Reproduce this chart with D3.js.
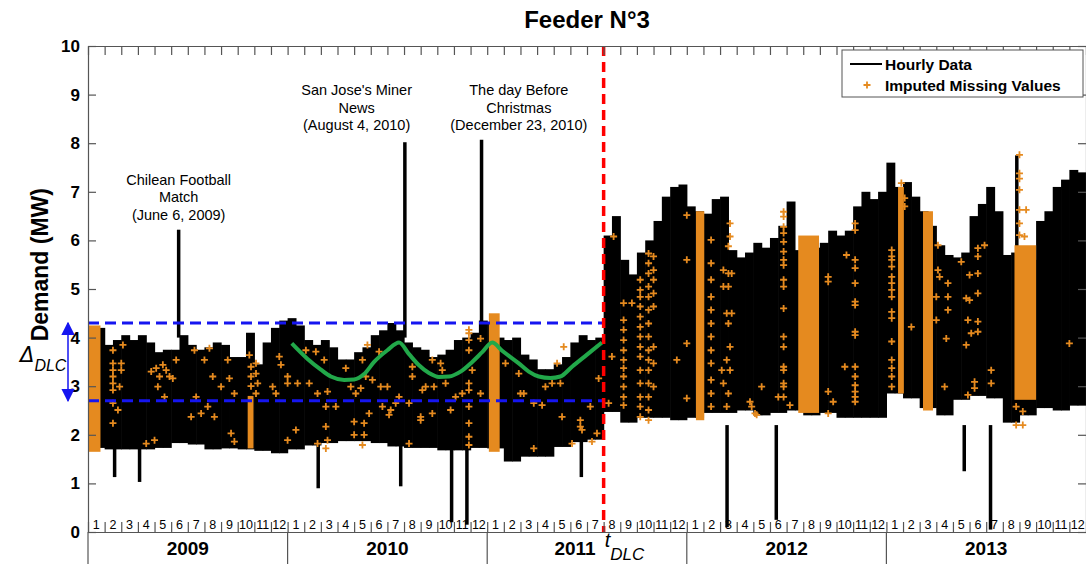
<!DOCTYPE html>
<html>
<head>
<meta charset="utf-8">
<script src="https://cdn.jsdelivr.net/npm/d3@7"></script>
<style>
  body { margin: 0; background: #fff; }
  svg { display: block; font-family: "Liberation Sans", Arial, sans-serif; }
</style>
</head>
<body>
<svg id="chart" width="1086" height="564"></svg>
<script>
// months are counted from Jan 2009 (0) to Dec 2013 (60)
const years = ["2009", "2010", "2011", "2012", "2013"];
const monthLabels = ["1", "2", "3", "4", "5", "6", "7", "8", "9", "10", "11", "12"];
const yTicks = [0, 1, 2, 3, 4, 5, 6, 7, 8, 9, 10];

// upper envelope of the hourly data, two values per month
const upperHalf = [
  4.15, 4.2, 3.85, 3.95, 4.05, 3.95, 4.05, 3.9, 3.7, 3.75, 3.75, 4.05,
  3.85, 3.75, 3.8, 3.9, 3.85, 3.6, 3.6, 4.1, 3.45, 3.9, 4.2, 4.35,
  4.4, 4.25, 3.95, 3.85, 3.95, 3.8, 3.55, 3.55, 3.7, 3.8, 4.05, 4.15,
  4.3, 4.15, 3.9, 3.8, 3.75, 3.6, 3.65, 3.75, 3.95, 4.0, 4.1, 4.35,
  4.3, 4.0, 3.95, 4.0, 3.65, 3.55, 3.35, 3.35, 3.45, 3.6, 3.9, 4.05,
  3.95, 4.0, 6.1, 6.5, 5.6, 5.3, 5.75, 6.0, 6.4, 6.9, 7.1, 7.15,
  6.7, 6.6, 6.55, 6.85, 6.9, 5.8, 5.65, 5.75, 5.95, 5.85, 6.05, 6.3,
  6.8, 5.8, 5.85, 5.85, 5.95, 6.2, 6.1, 6.2, 6.7, 7.0, 6.85, 7.0,
  7.6, 7.1, 7.2, 6.9, 6.6, 6.3, 5.9, 5.7, 5.65, 5.75, 6.5, 6.75,
  7.1, 6.6, 5.7, 5.75, 5.65, 5.6, 6.4, 6.6, 7.1, 7.25, 7.45, 7.4
];
// lower envelope, one value per month
const lowerMonthly = [
  1.73, 1.7, 1.7, 1.7, 1.73, 1.83, 1.8, 1.7, 1.72, 1.7, 1.67, 1.62,
  1.7, 1.78, 1.83, 1.87, 1.87, 1.83, 1.76, 1.73, 1.73, 1.68, 1.68, 1.73,
  1.72, 1.45, 1.55, 1.55, 1.75, 1.85, 1.9, 2.47, 2.25, 2.35, 2.35, 2.3,
  2.35, 2.45, 2.45, 2.5, 2.4, 2.45, 2.5, 2.4, 2.45, 2.35, 2.35, 2.35,
  2.85, 2.75, 2.55, 2.4, 2.72, 2.8, 2.75, 2.25, 2.4, 2.55, 2.5, 2.6
];
// single-hour spikes [month, value]
const spikes = [
  [5.45, 6.22], [19.05, 8.02], [23.66, 8.07], [55.84, 7.75],
  [1.6, 1.13], [3.1, 1.03], [13.84, 0.9], [18.8, 0.94], [21.86, 0.2], [22.78, 0.15],
  [29.66, 1.13], [38.42, 0.1], [41.38, 0.25], [52.68, 1.25], [54.26, 0.05]
];
// dense runs of imputed values [from, to, low, high]
const imputedBands = [
  [0.0, 0.75, 1.65, 4.25], [9.6, 9.95, 1.72, 2.8], [24.1, 24.75, 1.65, 4.5],
  [36.55, 37.05, 2.3, 6.6], [42.7, 43.95, 2.45, 6.1], [48.7, 49.05, 2.85, 7.1],
  [50.2, 50.8, 2.5, 6.6], [55.7, 57.0, 2.72, 5.9]
];
// scattered imputed values [month, value]
const imputed = [
  [1.5,3.74],[1.5,3.47],[1.5,3.33],[1.5,3.2],[1.5,3.06],[1.5,2.92],[1.5,2.65],[1.5,2.24],[2.0,3.47],[2.0,3.33],[1.9,2.99],[1.8,2.51],[2.1,3.85],
  [3.8,3.3],[4.1,3.37],[4.3,3.2],[4.5,3.44],[4.7,3.33],[4.9,3.2],[5.1,3.16],[4.2,2.99],[4.6,2.78],[5.3,3.54],
  [6.4,3.74],[7.0,3.54],[7.3,3.78],[7.5,3.2],[8.0,2.99],[8.5,3.16],[8.8,2.85],[8.4,3.54],[9.7,3.64],
  [6.2,2.37],[6.5,2.78],[6.8,2.44],[7.2,2.58],[7.6,2.37],[8.6,2.03],[8.8,1.86],[3.5,1.82],[4.0,1.89],
  [9.8,3.0],[9.8,3.2],[9.8,3.4],[10.1,3.47],[10.1,3.26],[10.2,3.06],[10.1,2.85],
  [11.5,3.61],[11.6,3.44],[12.0,3.2],[11.3,2.85],[11.1,2.99],[12.0,3.06],
  [12.6,3.06],[13.1,3.74],[13.7,3.71],[13.3,3.06],[13.8,2.85],[14.4,2.89],[14.3,2.58],[14.3,2.17],[14.4,1.89],[14.3,1.72],[13.8,1.82],[12.5,2.1],[12.0,1.89],
  [14.2,3.54],[14.9,2.58],[15.5,3.37],[15.8,2.99],[16.1,2.85],[16.4,2.96],[16.5,3.54],[16.7,3.2],[16.8,3.85],[17.1,3.13],[16.9,2.44],[16.6,2.24],[16.0,2.27],[16.0,2.0],[16.6,2.0],[16.5,1.79],
  [17.5,3.71],[17.6,2.99],[17.7,2.58],[18.0,2.99],[18.2,2.51],[18.1,2.41],[18.5,2.65],[18.7,2.78],[19.3,1.82],[19.5,3.4],[19.5,3.2],[19.3,2.65],[20.0,2.37],[20.1,2.92],
  [20.7,3.54],[21.3,3.33],[20.7,2.44],[20.3,2.99],[20.8,2.99],[21.5,3.06],[22.1,2.78],[22.5,2.85],[21.2,3.47],[21.8,2.51],[20.0,2.3],
  [22.9,4.16],[22.9,4.09],[22.9,3.95],[22.9,3.74],[22.9,3.06],[22.9,2.92],[22.9,2.58],[22.9,2.24],[22.9,1.96],[22.9,1.79],
  [23.6,3.98],[23.6,2.85],[23.1,3.33],
  [25.1,3.47],[25.9,3.26],[26.0,2.85],[26.2,2.85],[26.8,2.65],[27.3,2.61],[27.5,2.99],[27.9,3.06],[28.4,3.06],[28.2,3.47],[28.6,3.81],[28.5,2.37],[29.6,2.3],[29.7,2.1],[29.6,2.17],[29.1,1.82],[26.8,1.72],[30.3,1.86],[30.7,3.16],[30.2,2.58],[30.6,2.03],
  [31.5,3.61],[31.6,6.08],[31.3,2.65],[32.7,4.71],
  [32.2,4.71],[32.2,4.36],[32.2,4.16],[32.2,3.95],[32.2,3.74],[32.2,3.54],[32.2,3.37],[32.2,3.2],[32.2,2.99],[32.2,2.78],[32.2,2.61],
  [33.2,5.19],[33.2,4.98],[33.2,4.84],[33.2,4.64],[33.2,4.43],[33.2,4.22],[33.2,4.02],[33.2,3.81],[33.2,3.61],[33.2,3.33],[33.2,3.06],[33.2,2.78],[33.2,2.58],[33.2,2.37],
  [33.7,5.73],[33.7,5.53],[33.7,5.32],[33.7,5.05],[33.7,4.84],[33.7,4.57],[33.7,4.29],[33.7,4.02],[33.7,3.74],[33.7,3.54],[33.7,3.33],[33.7,3.06],[33.7,2.78],[33.7,2.51],[33.7,2.3],
  [34.0,5.67],[34.0,5.39],[34.0,5.19],[34.0,4.91],[34.0,4.64],[34.0,3.81],[34.0,3.47],[34.0,2.99],
  [35.4,3.54],[36.0,3.88],[36.0,2.75],[36.0,5.6],[36.0,6.52],
  [37.46,6.01],[37.46,5.53],[37.46,5.19],[37.46,4.84],[37.46,4.57],[37.46,4.29],[37.46,4.02],[37.46,3.74],[37.46,3.47],[37.46,3.13],[37.46,2.85],[37.46,2.58],
  [38.6,6.35],[38.6,6.08],[38.5,5.88],[38.2,5.39],[38.5,5.32],[38.7,5.32],[38.2,5.05],[38.5,5.05],[38.4,4.5],[38.7,4.5],[38.5,4.29],[38.6,3.81],[38.4,3.54],[38.6,3.33],[38.1,3.33],[38.2,3.06],[38.5,2.85],[38.4,2.58],[39.9,2.58],[40.1,2.44],
  [39.8,2.68],[40.5,2.99],[40.2,2.41],
  [41.82,6.59],[41.82,6.49],[41.82,6.28],[41.82,6.15],[41.82,5.97],[41.82,5.77],[41.82,5.6],[41.82,5.49],[41.82,5.19],[41.82,5.05],[41.82,4.6],[41.82,4.02],[41.82,3.81],[41.82,3.4],[41.82,3.33],[41.82,3.06],[41.82,2.99],[41.82,2.78],
  [41.5,2.78],[42.2,2.61],
  [44.5,5.25],[44.5,5.15],[44.5,2.89],[44.8,2.68],[44.5,2.44],[45.5,3.4],[45.6,5.7],
  [46.12,6.35],[46.12,6.21],[46.12,5.6],[46.12,5.43],[46.12,5.12],[46.12,4.74],[46.12,4.67],[46.12,4.12],[46.12,4.05],[46.12,3.4],[46.12,3.2],[46.12,3.02],[46.12,2.89],[46.12,2.78],[46.12,2.68],
  [48.32,5.8],[48.32,5.67],[48.32,5.6],[48.32,5.46],[48.32,5.25],[48.32,5.12],[48.32,4.98],[48.32,4.84],[48.32,4.53],[48.32,4.4],[48.32,3.92],[48.32,3.54],[48.32,3.37],[48.32,3.2],[48.32,2.99],
  [49.5,4.22],[49.1,6.87],[49.1,6.7],[48.9,7.18],
  [51.1,5.9],[51.1,5.39],[51.2,5.25],[51.0,4.84],[51.0,4.36],[51.7,5.12],[51.7,4.84],[51.7,4.57],[51.6,3.98],[51.5,2.99],
  [52.5,5.56],[53.0,5.29],[53.5,5.32],[53.5,5.84],[53.5,5.67],[52.8,4.81],[53.0,4.77],[53.5,4.91],[52.9,4.36],[53.5,4.33],[53.1,4.09],[53.5,4.12],[52.8,3.85],[53.3,3.09],[53.3,2.96],[52.9,2.82],[53.9,5.9],[54.3,3.33],[54.3,3.06],
  [56.0,7.76],[56.0,7.38],[56.0,7.27],[56.0,7.04],[56.0,6.63],[56.0,6.35],[56.0,6.11],[56.4,6.63],[56.3,6.08],[55.8,2.2],[56.2,2.2],[56.2,2.48],[55.8,2.58],
  [59.0,3.88]
];
// seasonal trend drawn over 2010-2011 [month, value]
const trend = [
  [12.25,3.88],[13.2,3.56],[14.0,3.34],[14.6,3.2],[15.4,3.13],[16.0,3.14],[16.6,3.25],[17.2,3.5],[18.0,3.74],[18.7,3.9],
  [19.3,3.66],[19.9,3.43],[20.5,3.27],[21.1,3.19],[21.7,3.2],[22.4,3.3],[23.1,3.5],[23.7,3.7],[24.3,3.9],
  [24.9,3.73],[25.9,3.47],[26.5,3.3],[27.1,3.2],[27.8,3.17],[28.4,3.2],[29.1,3.4],[30.0,3.65],[30.9,3.9]
];
const dlcBounds = [4.3, 2.7];
const tDLC = 31;
const events = [
  { m: 5.45, lines: ["Chilean Football", "Match", "(June 6, 2009)"], top: 7.14 },
  { m: 16.15, lines: ["San Jose's Miner", "News", "(August 4, 2010)"], top: 8.99 },
  { m: 25.9, lines: ["The day Before", "Christmas", "(December 23, 2010)"], top: 8.99 }
];

const svg = d3.select("#chart");
const margin = { top: 46, right: 0, bottom: 32, left: 88 };
const W = +svg.attr("width"), H = +svg.attr("height");
const x = d3.scaleLinear().domain([0, 60]).range([margin.left, W - margin.right]);
const y = d3.scaleLinear().domain([0, 10]).range([H - margin.bottom, margin.top]);
const orange = "#e58a1f";

// hourly data envelope
svg.append("g").selectAll("rect")
  .data(upperHalf)
  .enter().append("rect")
  .attr("x", (d, i) => x(i / 2))
  .attr("width", (d, i) => x((i + 1) / 2) - x(i / 2) + 0.6)
  .attr("y", d => y(d))
  .attr("height", (d, i) => y(lowerMonthly[Math.floor(i / 2)]) - y(d))
  .attr("fill", "#000");

svg.append("g").selectAll("line")
  .data(spikes)
  .enter().append("line")
  .attr("x1", d => x(d[0])).attr("x2", d => x(d[0]))
  .attr("y1", d => y(d[1]))
  .attr("y2", d => d[1] > 5 ? y(4) : y(2.2))
  .attr("stroke", "#000").attr("stroke-width", 3.5);

// imputed values
svg.append("g").selectAll("rect")
  .data(imputedBands)
  .enter().append("rect")
  .attr("x", d => x(d[0])).attr("width", d => x(d[1]) - x(d[0]))
  .attr("y", d => y(d[3])).attr("height", d => y(d[2]) - y(d[3]))
  .attr("fill", orange);

const plus = "M-3.5,0H3.5M0,-3.5V3.5";
svg.append("g").selectAll("path")
  .data(imputed)
  .enter().append("path")
  .attr("transform", d => `translate(${x(d[0])},${y(d[1])})`)
  .attr("d", plus)
  .attr("stroke", orange).attr("stroke-width", 1.8);

// DLC band
svg.append("g").selectAll("line")
  .data(dlcBounds)
  .enter().append("line")
  .attr("x1", x(0)).attr("x2", x(tDLC))
  .attr("y1", d => y(d)).attr("y2", d => y(d))
  .attr("stroke", "#1515f0").attr("stroke-width", 3).attr("stroke-dasharray", "11,6");

svg.append("path")
  .datum(trend)
  .attr("fill", "none")
  .attr("stroke", "#22a84a")
  .attr("stroke-width", 4)
  .attr("d", d3.line().x(d => x(d[0])).y(d => y(d[1])).curve(d3.curveMonotoneX));

svg.append("line")
  .attr("x1", x(tDLC)).attr("x2", x(tDLC))
  .attr("y1", y(10)).attr("y2", y(0))
  .attr("stroke", "#ff0000").attr("stroke-width", 3.5).attr("stroke-dasharray", "10,6");

// axes
const axisStyle = g => {
  g.selectAll("path.domain").attr("stroke", "#555").attr("stroke-width", 1.2);
  g.selectAll(".tick line").attr("stroke", "#555").attr("stroke-width", 1.2);
};
svg.append("g").attr("transform", `translate(${x(0)},0)`)
  .call(d3.axisLeft(y).tickValues(yTicks).tickSizeInner(-8).tickSizeOuter(0).tickPadding(8))
  .call(axisStyle)
  .call(g => g.selectAll("text").attr("font-size", 17).attr("font-weight", "bold").attr("fill", "#000")
    .attr("font-family", "Liberation Sans, Arial, sans-serif"));
svg.append("g").attr("transform", `translate(${x(60)},0)`)
  .call(d3.axisRight(y).tickValues(yTicks).tickSizeInner(-8).tickSizeOuter(0).tickFormat(""))
  .call(axisStyle);
svg.append("g").attr("transform", `translate(0,${y(10)})`)
  .call(d3.axisTop(x).tickValues(d3.range(0, 61)).tickSizeInner(-9).tickSizeOuter(0).tickFormat(""))
  .call(axisStyle);
svg.append("g").attr("transform", `translate(0,${y(0)})`)
  .call(d3.axisBottom(x).tickValues(d3.range(0, 61)).tickSizeInner(-10).tickSizeOuter(0).tickFormat(""))
  .call(axisStyle);

// month and year labels
svg.append("g").selectAll("text")
  .data(d3.range(60))
  .enter().append("text")
  .attr("x", m => x(m + 0.5)).attr("y", y(0) - 3)
  .attr("text-anchor", "middle").attr("font-size", 12.5)
  .text(m => monthLabels[m % 12]);

svg.append("g").selectAll("line")
  .data(d3.range(0, 5))
  .enter().append("line")
  .attr("x1", i => x(i * 12)).attr("x2", i => x(i * 12))
  .attr("y1", y(0)).attr("y2", H)
  .attr("stroke", "#555").attr("stroke-width", 1.2);

svg.append("g").selectAll("text")
  .data(years)
  .enter().append("text")
  .attr("x", (d, i) => x(i * 12 + 6) - (i === 2 ? 12 : 0)).attr("y", H - 9)
  .attr("text-anchor", "middle").attr("font-size", 19).attr("font-weight", "bold")
  .text(d => d);

const tl = svg.append("text").attr("x", x(tDLC) + 1).attr("y", H - 17)
  .attr("font-size", 20).attr("font-style", "italic");
tl.append("tspan").text("t");
tl.append("tspan").attr("dy", 13).attr("font-size", 17).text("DLC");

// titles
svg.append("text").attr("x", 587).attr("y", 28)
  .attr("text-anchor", "middle").attr("font-size", 24).attr("font-weight", "bold")
  .text("Feeder N°3");
svg.append("text")
  .attr("transform", `translate(48,${y(5.5)}) rotate(-90)`)
  .attr("text-anchor", "middle").attr("font-size", 23).attr("font-weight", "bold")
  .text("Demand (MW)");

// DLC arrow
const defs = svg.append("defs");
defs.append("marker").attr("id", "ah").attr("viewBox", "0 0 10 10")
  .attr("refX", 9).attr("refY", 5).attr("markerWidth", 9).attr("markerHeight", 9)
  .attr("orient", "auto-start-reverse")
  .append("path").attr("d", "M0,0L10,5L0,10z").attr("fill", "#1515f0");
svg.append("line")
  .attr("x1", 68).attr("x2", 68)
  .attr("y1", y(dlcBounds[0])).attr("y2", y(dlcBounds[1]))
  .attr("stroke", "#1515f0").attr("stroke-width", 1.5)
  .attr("marker-start", "url(#ah)").attr("marker-end", "url(#ah)");
const dl = svg.append("text").attr("x", 20).attr("y", y(3.5))
  .attr("font-size", 21).attr("font-style", "italic").attr("font-family", "DejaVu Sans, sans-serif");
dl.append("tspan").text("Δ");
dl.append("tspan").attr("dy", 9).attr("font-size", 16).attr("font-family", "Liberation Sans, Arial, sans-serif").text("DLC");

// event annotations
events.forEach(e => {
  const t = svg.append("text").attr("text-anchor", "middle").attr("font-size", 14.5);
  e.lines.forEach((s, i) => {
    t.append("tspan").attr("x", x(e.m)).attr("y", y(e.top) + i * 17.5).text(s);
  });
});

// legend
const lg = svg.append("g").attr("transform", "translate(842,50)");
lg.append("rect").attr("width", 241).attr("height", 47).attr("fill", "#fff").attr("stroke", "#555");
lg.append("line").attr("x1", 8).attr("x2", 40).attr("y1", 14).attr("y2", 14)
  .attr("stroke", "#000").attr("stroke-width", 2);
lg.append("text").attr("x", 43).attr("y", 20).attr("font-size", 15.5).attr("font-weight", "bold").text("Hourly Data");
lg.append("path").attr("transform", "translate(25,35)").attr("d", plus)
  .attr("stroke", orange).attr("stroke-width", 1.8);
lg.append("text").attr("x", 43).attr("y", 41).attr("font-size", 15.5).attr("font-weight", "bold").text("Imputed Missing Values");
</script>
</body>
</html>
